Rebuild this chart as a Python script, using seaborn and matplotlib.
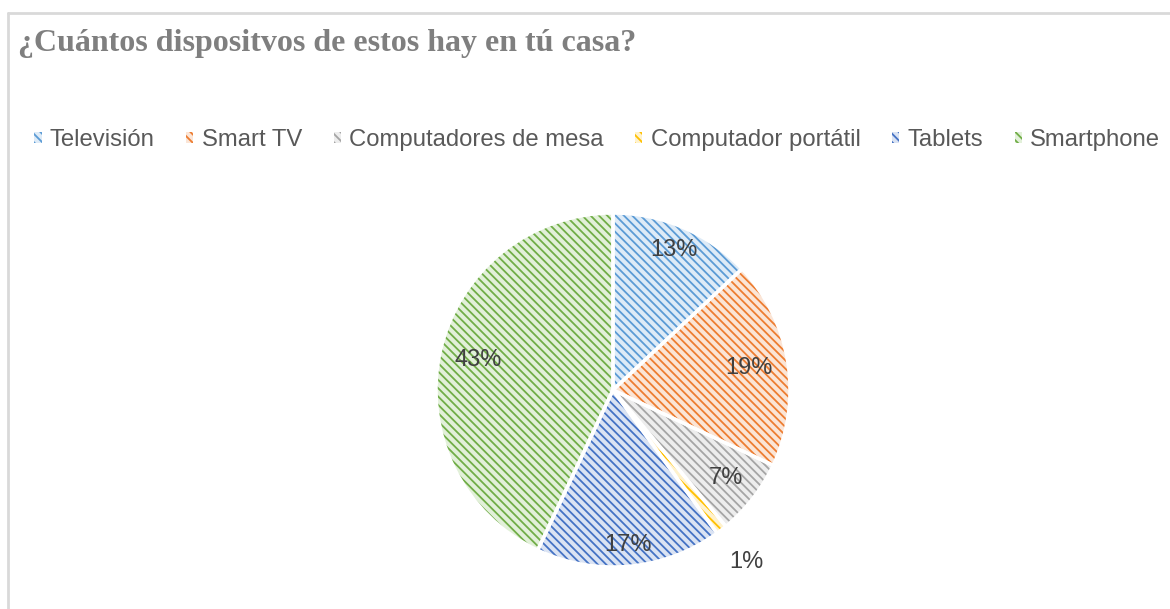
import matplotlib
matplotlib.use("Agg")
import matplotlib.pyplot as plt
import seaborn as sns
import numpy as np
from matplotlib.lines import Line2D
from matplotlib.patches import Patch

sns.set_theme(style="white")
plt.rcParams['font.family'] = ['Liberation Sans', 'DejaVu Sans']
plt.rcParams['hatch.linewidth'] = 1.3

# Data
categories = ["Televisión", "Smart TV", "Computadores de mesa",
              "Computador portátil", "Tablets", "Smartphone"]
shares = [13, 19, 7, 1, 17, 43]
pct_labels = ["13%", "19%", "7%", "1%", "17%", "43%"]

# Styling
dark_colors = ["#5B9BD5", "#ED7D31", "#A5A5A5", "#FFC000", "#4472C4", "#70AD47"]
light_colors = ["#DEEBF7", "#FBE5D6", "#EDEDED", "#FFF2CC", "#DAE3F3", "#E2F0D9"]
label_dist = [0.86, 0.78, 0.81, 1.23, 0.88, 0.78]
hatch = "\\" * 4

fig = plt.figure(figsize=(11.7, 6.09), dpi=100)

# frame lines like the original chart box
fig.add_artist(Line2D([0.0065, 1.0], [0.979, 0.979], transform=fig.transFigure,
                      color="#D9D9D9", lw=2))
fig.add_artist(Line2D([0.0065, 0.0065], [0.0, 0.979], transform=fig.transFigure,
                      color="#D9D9D9", lw=2))

fig.text(0.015, 0.928, "¿Cuántos dispositvos de estos hay en tú casa?",
         family=["Liberation Serif", "DejaVu Serif"], fontsize=23, fontweight="bold",
         color="#7F7F7F", va="center", ha="left")

# pie placed with centre (613, 390) px and radius 177 px
ax = fig.add_axes([(613 - 177) / 1170, (609 - 390 - 177) / 609, 354 / 1170, 354 / 609])

wedges, _ = ax.pie(shares, startangle=90, counterclock=False, colors=light_colors,
                   wedgeprops=dict(linewidth=0))
for w, dc in zip(wedges, dark_colors):
    w.set_edgecolor(dc)
    w.set_hatch(hatch)
    w.set_linewidth(0)

# white separators on top
ax.pie(shares, startangle=90, counterclock=False, colors=["none"] * len(shares),
       wedgeprops=dict(linewidth=2.5, edgecolor="white"))

start = 90.0
total = sum(shares)
for v, lab, d in zip(shares, pct_labels, label_dist):
    ang = start - v / total * 180.0
    start -= v / total * 360.0
    ax.text(d * np.cos(np.radians(ang)), d * np.sin(np.radians(ang)), lab,
            ha="center", va="center", fontsize=17, color="#404040")
ax.set_xlim(-1, 1)
ax.set_ylim(-1, 1)
ax.set_aspect("equal")
ax.axis("off")

handles = [Patch(facecolor=lc, edgecolor=dc, hatch=hatch, linewidth=0)
           for lc, dc in zip(light_colors, dark_colors)]
fig.legend(handles, categories, loc="center left", bbox_to_anchor=(0.011, 0.77),
           ncol=6, frameon=False, fontsize=17.2, handlelength=0.3, handleheight=0.3,
           handletextpad=0.35, columnspacing=1.32, labelcolor="#595959")

fig.savefig("out.png", dpi=100)
